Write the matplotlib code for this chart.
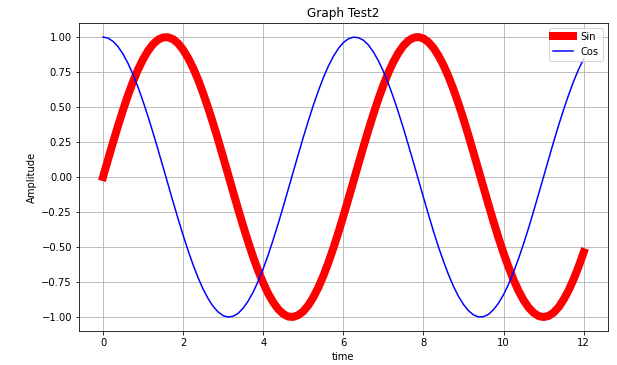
import matplotlib
matplotlib.use('Agg')
import matplotlib.pyplot as plt

time = [i * 0.125 for i in range(97)]
sin_vals = [0.000, 0.125, 0.247, 0.366, 0.479, 0.585, 0.682, 0.768,
            0.841, 0.902, 0.949, 0.981, 0.997, 0.998, 0.984, 0.954,
            0.909, 0.850, 0.778, 0.694, 0.598, 0.493, 0.382, 0.264,
            0.141, 0.017, -0.108, -0.231, -0.351, -0.465, -0.572, -0.670,
            -0.757, -0.833, -0.895, -0.944, -0.978, -0.997, -0.999, -0.986,
            -0.959, -0.916, -0.859, -0.789, -0.706, -0.612, -0.508, -0.397,
            -0.279, -0.157, -0.033, 0.092, 0.215, 0.335, 0.450, 0.558,
            0.657, 0.746, 0.823, 0.887, 0.938, 0.974, 0.995, 1.000,
            0.989, 0.963, 0.922, 0.866, 0.798, 0.717, 0.625, 0.523,
            0.412, 0.295, 0.173, 0.049, -0.075, -0.199, -0.320, -0.436,
            -0.544, -0.644, -0.735, -0.814, -0.880, -0.932, -0.970, -0.993,
            -1.000, -0.992, -0.968, -0.929, -0.875, -0.808, -0.729, -0.638,
            -0.537]
cos_vals = [1.000, 0.992, 0.969, 0.931, 0.878, 0.811, 0.732, 0.641,
            0.540, 0.431, 0.315, 0.194, 0.071, -0.054, -0.178, -0.299,
            -0.416, -0.526, -0.628, -0.720, -0.801, -0.869, -0.924, -0.964,
            -0.990, -1.000, -0.994, -0.973, -0.936, -0.885, -0.821, -0.743,
            -0.654, -0.555, -0.446, -0.331, -0.211, -0.087, 0.038, 0.162,
            0.284, 0.401, 0.512, 0.615, 0.709, 0.792, 0.861, 0.918,
            0.960, 0.987, 0.999, 0.995, 0.977, 0.943, 0.893, 0.830,
            0.754, 0.666, 0.568, 0.461, 0.347, 0.227, 0.104, -0.021,
            -0.146, -0.268, -0.388, -0.500, -0.602, -0.697, -0.781, -0.853,
            -0.911, -0.955, -0.985, -0.999, -0.997, -0.980, -0.947, -0.900,
            -0.839, -0.765, -0.678, -0.581, -0.476, -0.363, -0.243, -0.120,
            0.004, 0.129, 0.252, 0.371, 0.483, 0.588, 0.685, 0.771,
            0.844]

fig = plt.figure(figsize=(617 / 72, 365 / 72), dpi=72)
ax = fig.add_axes([0.128, 0.093, 0.857, 0.844])

ax.plot(time, sin_vals, color='red', linewidth=8, label='Sin')
ax.plot(time, cos_vals, color='blue', linewidth=1.5, label='Cos')

ax.set_title('Graph Test2')
ax.set_xlabel('time')
ax.set_ylabel('Amplitude')
ax.grid(True)
ax.legend(loc='upper right')

fig.savefig('out.png', dpi=72)
